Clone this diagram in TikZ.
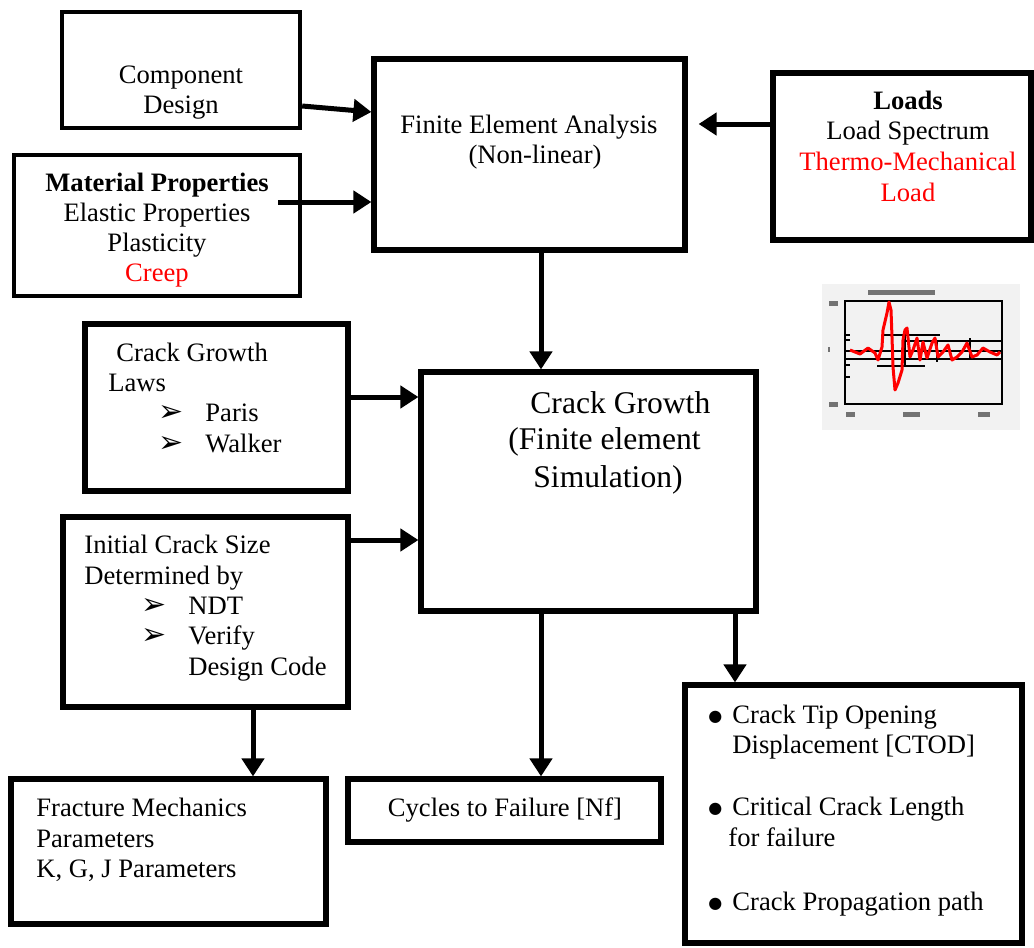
\documentclass[tikz,border=0pt]{standalone}
\usepackage{fontspec}
\setmainfont{Liberation Serif}
\newfontfamily\symfont{DejaVu Sans}
\usetikzlibrary{arrows.meta,fit}
\definecolor{myred}{RGB}{255,0,0}
\newcommand\myline[5]{\node[txt,anchor=#4] (#1) at (#2,#3) {#5};}
\newcommand\arrsym{{\symfont\fontsize{15}{16}\selectfont ➢}}
\newcommand\bulsym{{\symfont\fontsize{8}{10}\selectfont ●}}
\begin{document}
\begin{tikzpicture}[x=0.5pt,y=-0.5pt,
  box/.style={draw=black,line width=2.2pt,inner sep=0pt,fill=white},
  thick box/.style={box,line width=2.6pt},
  arr/.style={line width=2.5pt,-{Triangle[length=9pt,width=11pt]}},
  txt/.style={inner sep=0pt,font=\fontsize{13.3}{15}\selectfont},
  big/.style={inner sep=0pt,font=\fontsize{15.8}{18}\selectfont},
  blob/.style={fill=black!55,draw=none}]
\useasboundingbox (0,0) rectangle (1034,948);

% boxes
\node[box,fit={(62,12) (300,128)}] (cd) {};
\node[box,fit={(14,155) (300,296)}] (mp) {};
\node[thick box,fit={(374,59) (685,250)}] (fea) {};
\node[thick box,fit={(773,73) (1031,240)}] (loads) {};
\node[thick box,fit={(85,324) (348,491)}] (cgl) {};
\node[thick box,fit={(63,517) (348,707)}] (ics) {};
\node[thick box,fit={(421,372) (756,611)}] (cg) {};
\node[thick box,fit={(11,779) (326,924)}] (fm) {};
\node[thick box,fit={(348,779) (661,842)}] (cyc) {};
\node[thick box,fit={(685,685) (1022,943)}] (res) {};

% texts
\myline{cd1}{181}{83}{base}{Component}
\myline{cd2}{181}{113}{base}{Design}

\myline{fea1}{529}{133}{base}{Finite Element Analysis}
\myline{fea2}{535}{163}{base}{(Non-linear)}

\myline{mp1}{157}{191}{base}{\textbf{Material Properties}}
\myline{mp2}{157}{221}{base}{Elastic Properties}
\myline{mp3}{157}{251}{base}{Plasticity}
\myline{mp4}{157}{281}{base}{\textcolor{myred}{Creep}}

\myline{ld1}{908}{109}{base}{\textbf{Loads}}
\myline{ld2}{908}{139}{base}{Load Spectrum}
\myline{ld3}{908}{170}{base}{\textcolor{myred}{Thermo-Mechanical}}
\myline{ld4}{908}{201}{base}{\textcolor{myred}{Load}}

\myline{cgl1}{116}{361}{base west}{Crack Growth}
\myline{cgl2}{108}{391}{base west}{Laws}
\myline{cgl3a}{158}{421}{base west}{\arrsym}
\myline{cgl3}{205}{421}{base west}{Paris}
\myline{cgl4a}{158}{452}{base west}{\arrsym}
\myline{cgl4}{205}{452}{base west}{Walker}

\myline{ics1}{84}{553}{base west}{Initial Crack Size}
\myline{ics2}{84}{584}{base west}{Determined by}
\myline{ics3a}{141}{614}{base west}{\arrsym}
\myline{ics3}{188}{614}{base west}{NDT}
\myline{ics4a}{141}{644}{base west}{\arrsym}
\myline{ics4}{188}{644}{base west}{Verify}
\myline{ics5}{188}{675}{base west}{Design Code}

\node[big,anchor=base west] (cg1) at (530,413) {Crack Growth};
\node[big,anchor=base west] (cg2) at (508,449) {(Finite element};
\node[big,anchor=base west] (cg3) at (533,487) {Simulation)};

\myline{fm1}{36}{816}{base west}{Fracture Mechanics}
\myline{fm2}{36}{847}{base west}{Parameters}
\myline{fm3}{36}{877}{base west}{K, G, J Parameters}

\myline{cyc1}{505}{816}{base}{Cycles to Failure [Nf]}

\myline{r1a}{708}{721}{base west}{\bulsym}
\myline{r1}{732}{723}{base west}{Crack Tip Opening}
\myline{r2}{732}{753}{base west}{Displacement [CTOD]}
\myline{r3a}{708}{813}{base west}{\bulsym}
\myline{r3}{732}{815}{base west}{Critical Crack Length}
\myline{r4}{728}{846}{base west}{for failure}
\myline{r5a}{708}{908}{base west}{\bulsym}
\myline{r5}{732}{910}{base west}{Crack Propagation path}

% arrows
\coordinate (mpS) at (278,202);
\draw[arr] (cd.east |- 0,106) -- (fea.west |- 0,112);
\draw[arr] (mpS) -- (fea.west |- 0,202);
\draw[arr,shorten >=5.5pt] (loads.west |- 0,124) -- (fea.east |- 0,124);
\draw[arr] (fea.south -| 541,0) -- (cg.north -| 541,0);
\draw[arr] (cgl.east |- 0,397) -- (cg.west |- 0,397);
\draw[arr] (ics.east |- 0,540) -- (cg.west |- 0,540);
\draw[arr] (ics.south -| 253,0) -- (fm.north -| 253,0);
\draw[arr] (cg.south -| 541,0) -- (cyc.north -| 541,0);
\draw[arr] (cg.south -| 735,0) -- (res.north -| 735,0);

% small load-spectrum chart
\fill[black!5] (822,284) rectangle (1020,430);
\node[draw=black,line width=1.1pt,inner sep=0pt,fit={(845,301) (1002,404)}] (chart) {};
\fill[blob] (868,290) rectangle (935,295);
\fill[blob] (829,301) rectangle (838,306);
\fill[blob] (828,347) rectangle (830,352);
\fill[blob] (829,402) rectangle (838,407);
\fill[blob] (846,412) rectangle (855,417);
\fill[blob] (903,412) rectangle (920,417);
\fill[blob] (978,412) rectangle (990,417);
\foreach \yy in {335,340,365,377} \draw[line width=0.8pt] (845,\yy) -- (850,\yy);
\begin{scope}[line width=1pt]
\draw (883,335) -- (940,335);
\draw (905,341) -- (1002,341);
\draw (845,351) -- (1002,351);
\draw (845,359) -- (1002,359);
\draw (877,366) -- (925,366);
\draw (905,335) -- (905,366);
\draw (937,340) -- (937,362);
\draw (970,338) -- (970,358);
\end{scope}
\draw[myred,line width=1.5pt,line join=round]
 (850,350) -- (860,354) -- (868,348) -- (875,353) -- (878,360) -- (882,347)
 -- (883,330) -- (887,313) -- (889,302) -- (891,310) -- (892,337) -- (893,367)
 -- (895,390) -- (898,383) -- (902,370) -- (903,340) -- (905,330) -- (907,328)
 -- (910,357) -- (913,350) -- (917,338) -- (920,360) -- (923,342) -- (927,358)
 -- (932,343) -- (935,338) -- (938,357) -- (943,352) -- (948,345) -- (952,360)
 -- (957,357) -- (962,352) -- (967,343) -- (972,357) -- (977,355) -- (983,348)
 -- (990,352) -- (997,355) -- (1000,352);
\end{tikzpicture}
\end{document}
